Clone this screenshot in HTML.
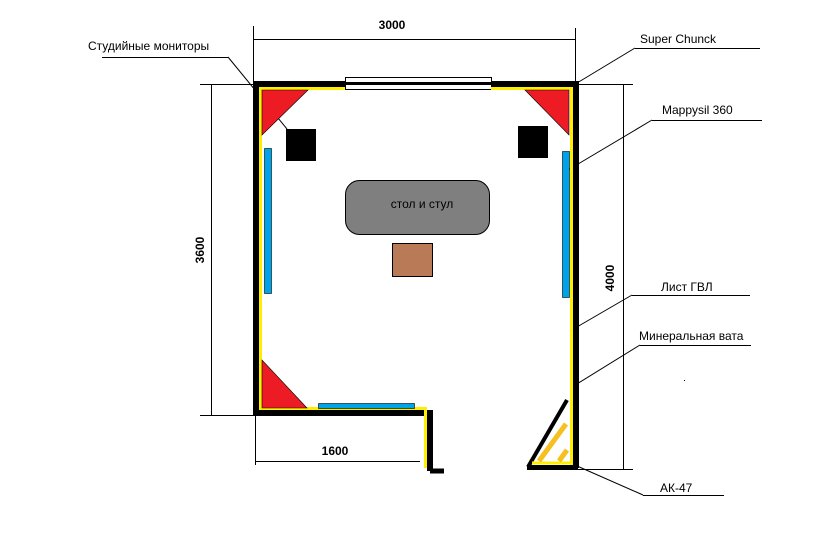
<!DOCTYPE html>
<html><head><meta charset="utf-8"><style>
html,body{margin:0;padding:0;background:#fff}
svg{display:block}
text{font-family:"Liberation Sans","DejaVu Sans",sans-serif;fill:#000}
</style></head><body>
<svg width="819" height="538" viewBox="0 0 819 538" xmlns="http://www.w3.org/2000/svg">
<rect width="819" height="538" fill="#fff"/>
<g stroke="#000" stroke-width="1" fill="none">
<line x1="253.5" y1="26" x2="253.5" y2="84"/>
<line x1="575.5" y1="28" x2="575.5" y2="84"/>
<line x1="253" y1="39.5" x2="575" y2="39.5"/>
<line x1="200" y1="84.5" x2="253" y2="84.5"/>
<line x1="200" y1="415.5" x2="253" y2="415.5"/>
<line x1="211.5" y1="84" x2="211.5" y2="415"/>
<line x1="255.5" y1="415" x2="255.5" y2="465"/>
<line x1="255" y1="461.5" x2="420" y2="461.5"/>
<line x1="578" y1="84.5" x2="633" y2="84.5"/>
<line x1="578" y1="469.5" x2="633" y2="469.5"/>
<line x1="623.5" y1="84" x2="623.5" y2="469"/>
<line x1="102" y1="57.5" x2="228" y2="57.5"/>
<line x1="228" y1="57" x2="287" y2="129"/>
<line x1="635" y1="48.5" x2="760" y2="48.5"/>
<line x1="635" y1="48" x2="577" y2="83"/>
<line x1="652" y1="120.5" x2="762" y2="120.5"/>
<line x1="652" y1="120" x2="568" y2="170"/>
<line x1="632" y1="295.5" x2="750" y2="295.5"/>
<line x1="632" y1="295" x2="570" y2="331"/>
<line x1="640" y1="345.5" x2="751" y2="345.5"/>
<line x1="640" y1="345" x2="572" y2="387"/>
<line x1="643" y1="495.5" x2="724" y2="495.5"/>
<line x1="643" y1="495" x2="568" y2="462"/>
</g>
<rect x="345.5" y="77.5" width="146" height="12" fill="#fff" stroke="#000"/>
<line x1="345" y1="83.5" x2="491" y2="83.5" stroke="#000" stroke-width="3"/>
<path d="M345 84 H256 V413 H430 V471" fill="none" stroke="#000" stroke-width="6"/>
<path d="M491 84 H576 V468" fill="none" stroke="#000" stroke-width="6"/>
<line x1="430" y1="471" x2="444" y2="471" stroke="#000" stroke-width="5"/>
<path d="M345 88.5 H260.5 V408.5 H425.5 V468" fill="none" stroke="#ffee00" stroke-width="3"/>
<path d="M491 88.5 H571.5 V465" fill="none" stroke="#ffee00" stroke-width="3"/>
<line x1="527" y1="467.5" x2="578" y2="467.5" stroke="#000" stroke-width="5"/>
<line x1="528" y1="467" x2="567" y2="400" stroke="#000" stroke-width="4"/>
<line x1="532" y1="463" x2="571" y2="463" stroke="#ffee00" stroke-width="3"/>
<line x1="539" y1="461" x2="566" y2="424" stroke="#f5c020" stroke-width="5"/>
<line x1="559" y1="461" x2="567" y2="450" stroke="#f5c020" stroke-width="5"/>
<polygon points="262,90 308,90 262,135" fill="#ed1c24" stroke="#000" stroke-width="0.6"/>
<polygon points="525,90 569,90 569,135" fill="#ed1c24" stroke="#000" stroke-width="0.6"/>
<polygon points="262,360 262,408 307,408" fill="#ed1c24" stroke="#000" stroke-width="0.6"/>
<rect x="286" y="129" width="30" height="32" fill="#000"/>
<rect x="518" y="126" width="30" height="32" fill="#000"/>
<rect x="264.5" y="148.5" width="7" height="145" fill="#00a2e8" stroke="#000" stroke-width="0.6"/>
<rect x="562.5" y="151.5" width="7" height="146" fill="#00a2e8" stroke="#000" stroke-width="0.6"/>
<rect x="318.5" y="403.5" width="96" height="5" fill="#00a2e8" stroke="#000" stroke-width="0.6"/>
<rect x="345.5" y="180.5" width="144" height="54" rx="14" fill="#7f7f7f" stroke="#000"/>
<text x="422" y="208" font-size="12" text-anchor="middle">стол и стул</text>
<rect x="392.5" y="243.5" width="40" height="33" fill="#b97a57" stroke="#000"/>
<text x="392" y="29" font-size="12" font-weight="bold" text-anchor="middle">3000</text>
<text x="335" y="455" font-size="12" font-weight="bold" text-anchor="middle">1600</text>
<text transform="translate(204,250) rotate(-90)" font-size="12" font-weight="bold" text-anchor="middle">3600</text>
<text transform="translate(614,278) rotate(-90)" font-size="12" font-weight="bold" text-anchor="middle">4000</text>
<text x="88" y="50" font-size="12">Студийные мониторы</text>
<text x="640" y="43" font-size="12">Super Chunck</text>
<text x="662" y="114" font-size="12">Mappysil 360</text>
<text x="661" y="291" font-size="12">Лист ГВЛ</text>
<text x="639" y="340" font-size="12">Минеральная вата</text>
<text x="660" y="492" font-size="12">АК-47</text>
<rect x="684" y="380" width="1" height="1" fill="#000"/>
</svg>
</body></html>
